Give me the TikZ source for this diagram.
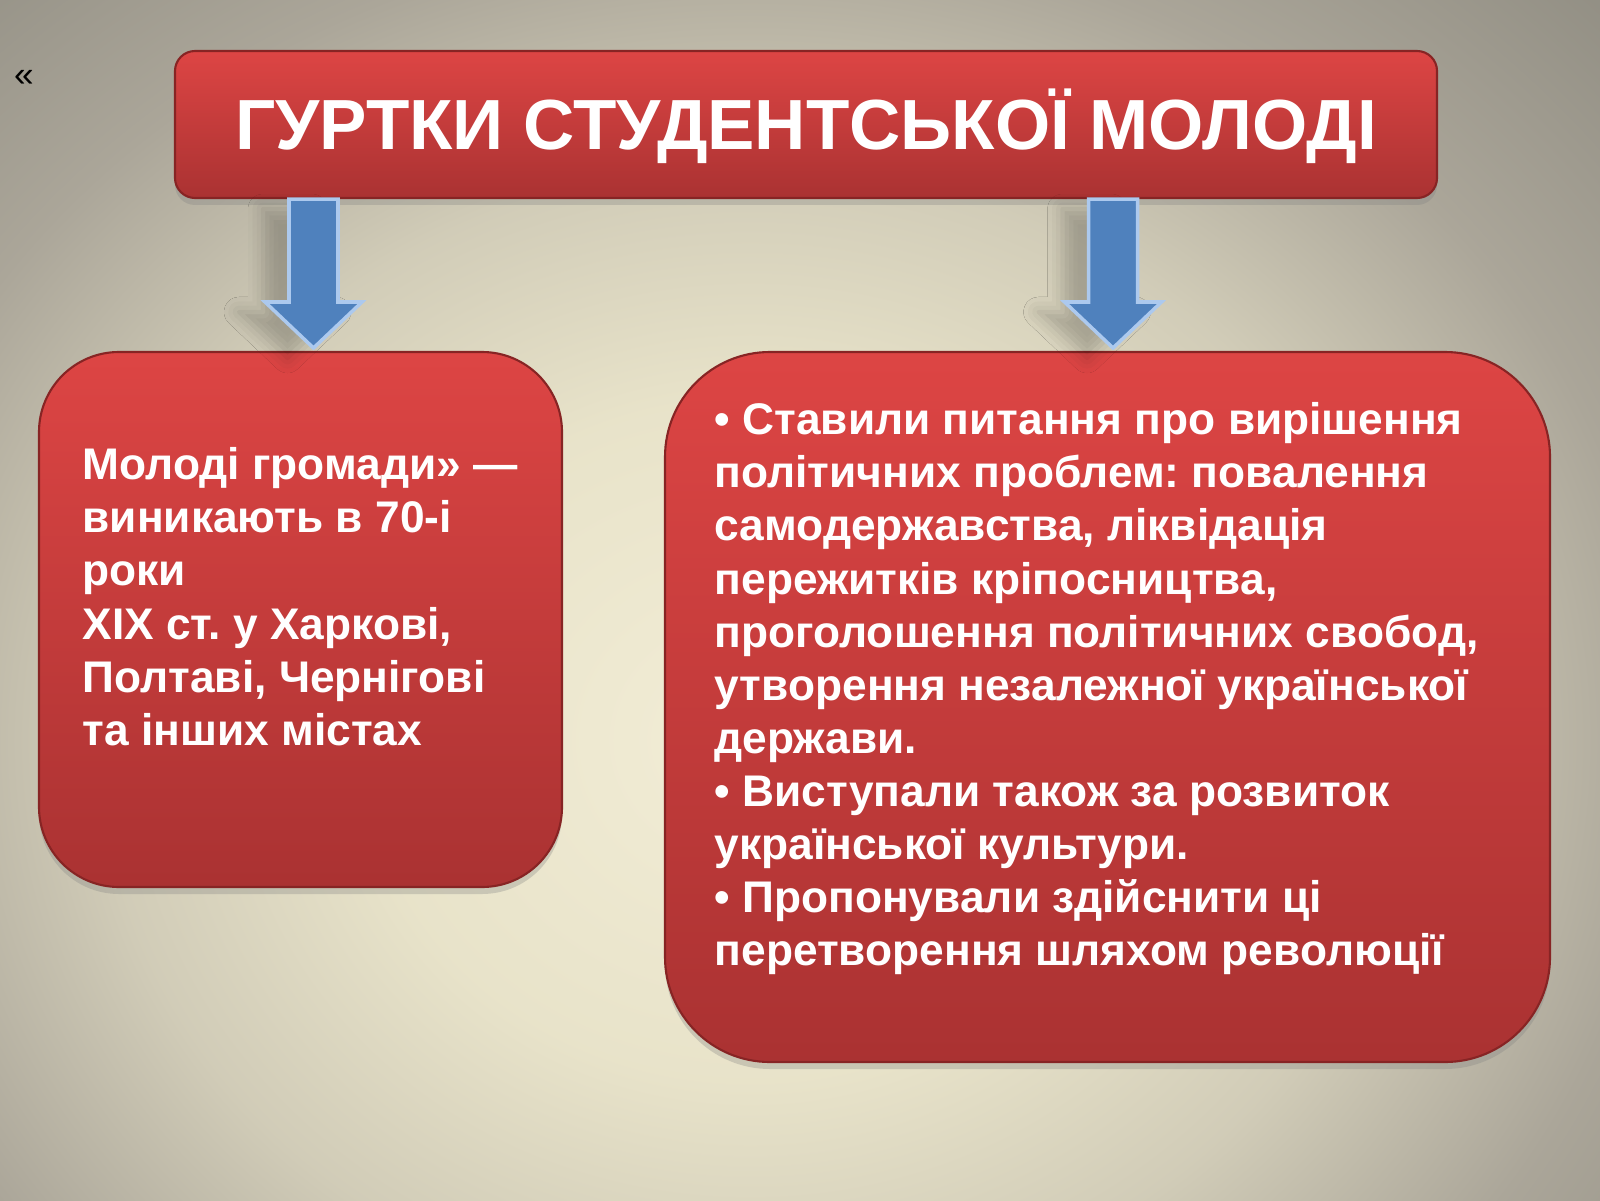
\documentclass[tikz,border=0pt]{standalone}
\usepackage{fontspec}
\setmainfont{Liberation Sans}
\usetikzlibrary{calc,shadows,shadows.blur}
\definecolor{boxtop}{RGB}{221,69,68}
\definecolor{boxbottom}{RGB}{170,50,50}
\definecolor{boxedge}{RGB}{135,36,36}
\definecolor{arrowfill}{RGB}{79,129,189}
\definecolor{arrowedge}{RGB}{172,201,238}
\definecolor{slideedge}{rgb}{0.54,0.53,0.49}
\newcommand{\blockdown}[2]{%
    \draw [style=block arrow] ($(#1)+(-0.245,0)$) -- ($(#2)+(-0.245,0.46)$) -- ($(#2)+(-0.485,0.46)$)
        -- (#2) -- ($(#2)+(0.485,0.46)$) -- ($(#2)+(0.245,0.46)$) -- ($(#1)+(0.245,0)$) -- cycle;}

\begin{document}
\frenchspacing
\begin{tikzpicture}
    \pgfdeclareradialshading{slide}{\pgfpoint{0cm}{0cm}}%
        {rgb(0cm)=(0.95,0.93,0.84); rgb(0.26cm)=(0.91,0.89,0.79); rgb(0.44cm)=(0.82,0.80,0.72);
        rgb(0.62cm)=(0.67,0.65,0.60); rgb(0.88cm)=(0.54,0.53,0.49); rgb(1cm)=(0.54,0.53,0.49)}
    \tikzstyle{red box}=[draw=boxedge, line width=0.6pt, top color=boxtop, bottom color=boxbottom,
        drop shadow={opacity=0.3, shadow xshift=0pt, shadow yshift=-0.7mm}]
    \tikzstyle{heading}=[red box, rounded corners=0.2cm, minimum width=12.62cm, minimum height=1.47cm,
        text=white, font=\bfseries\fontsize{20.2}{24}\selectfont, text height=14.4pt, text depth=0pt]
    \tikzstyle{body}=[text=white, font=\bfseries\fontsize{12.6}{15.1}\selectfont, align=left,
        inner sep=0pt, anchor=north west]
    \tikzstyle{block arrow}=[fill=arrowfill, draw=arrowedge, line width=1pt, line join=miter,
        blur shadow={shadow xshift=-0.26cm, shadow yshift=-0.1cm, shadow blur radius=0.15cm, shadow opacity=22}]

    \useasboundingbox (0,0) rectangle (16,12);
    \clip (0,0) rectangle (16,12);
    \fill [slideedge] (0,0) rectangle (16,12);
    \shade [shading=slide] (7.5,4.6) ellipse (13cm and 11.5cm);

    \node (quote) at (0.24, 11.22) {\fontsize{10}{12}\selectfont «};

    \node [style=heading] (title) at (8.06, 10.755) {ГУРТКИ СТУДЕНТСЬКОЇ МОЛОДІ};
    \node [style=red box, rounded corners=0.8cm, minimum width=5.23cm, minimum height=5.35cm] (boxL) at (3.005, 5.805) {};
    \node [style=red box, rounded corners=1.05cm, minimum width=8.85cm, minimum height=7.1cm] (boxR) at (11.075, 4.93) {};

    % arrows from the heading down to the boxes
    \coordinate (tipL) at (3.135, 8.52);
    \coordinate (tipR) at (11.13, 8.52);
    \coordinate (topL) at (title.south -| tipL);
    \coordinate (topR) at (title.south -| tipR);
    \blockdown{topL}{tipL}
    \blockdown{topR}{tipR}

    \node [style=body] (textL) at (0.82, 7.53) {Молоді громади» —\\виникають в 70-і\\роки\\XIX ст. у Харкові,\\Полтаві, Чернігові\\та інших містах};
    \node [style=body] (textR) at (7.14, 7.98) {• Ставили питання про вирішення\\політичних проблем: повалення\\самодержавства, ліквідація\\пережитків кріпосництва,\\проголошення політичних свобод,\\утворення незалежної української\\держави.\\• Виступали також за розвиток\\української культури.\\• Пропонували здійснити ці\\перетворення шляхом революції};
\end{tikzpicture}
\end{document}
